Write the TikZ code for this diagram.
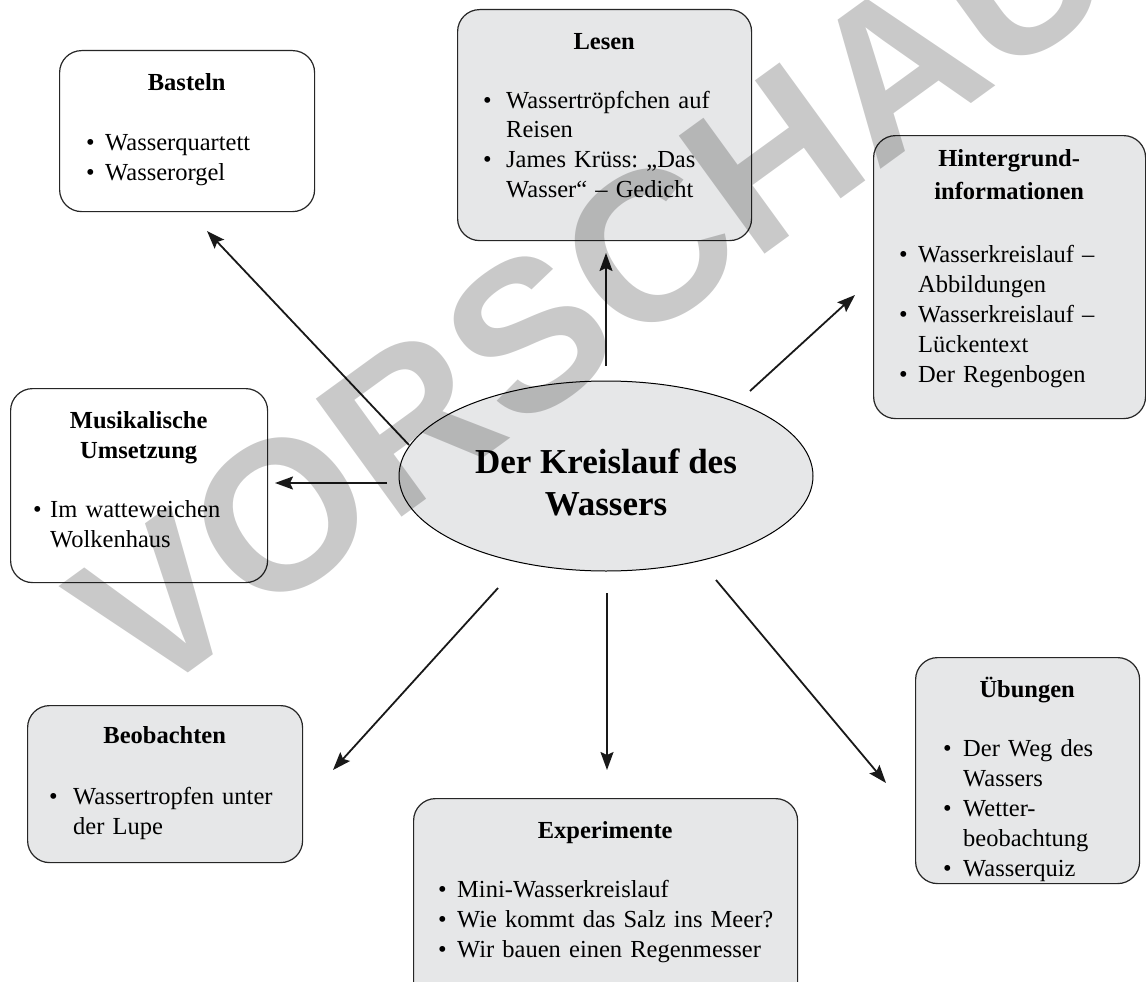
\documentclass[tikz,border=0pt]{standalone}
\usepackage{fontspec}
\setmainfont{Liberation Serif}
\newfontfamily\wmfont{Liberation Sans}
\usetikzlibrary{arrows.meta,shapes.geometric}
\definecolor{boxgray}{RGB}{230,231,232}
\frenchspacing
\newcommand\btitle[1]{{\centering\bfseries #1\par}}
\newcommand\bitem[2][19pt]{\par\hangindent=#1\hangafter=1\noindent\hbox to #1{\textbullet\hfil}\ignorespaces#2}
\tikzset{
  box/.style={draw=black!85, line width=1.2pt, rounded corners=22pt, inner sep=0pt, anchor=north west},
  whitebox/.style={box, fill=white},
  graybox/.style={box, fill=boxgray},
  txt/.style={inner sep=0pt, anchor=base west, font=\fontsize{24.5}{30}\selectfont},
  arr/.style={line width=1.8pt, draw=black!90, -{Stealth[length=18pt,width=13pt,inset=3pt]}},
}
\begin{document}
\begin{tikzpicture}[x=1pt,y=1pt]
\useasboundingbox (0,0) rectangle (1146,-982);
\clip (0,0) rectangle (1146,-982);
\fill[white] (0,0) rectangle (1146,-982);

% Basteln
\node[whitebox, minimum width=255, minimum height=161] (basteln) at (59,-50) {};
\node[txt, text width=201] (basteln-t) at (86,-91) {\raggedright\btitle{Basteln}\vspace{30pt}%
\bitem{Wasserquartett}\bitem{Wasserorgel}\par};

% Lesen
\node[graybox, minimum width=294, minimum height=231] (lesen) at (457,-9) {};
\node[txt, text width=242] (lesen-t) at (483,-49) {\raggedright\btitle{Lesen}\vspace{29pt}%
\bitem[23pt]{Wassertröpfchen auf\newline Reisen}\bitem[23pt]{James Krüss: „Das\newline Wasser“ – Gedicht}\par};

% Hintergrund
\node[graybox, minimum width=272, minimum height=283] (hinter) at (873,-135) {};
\node[txt, text width=220] (hinter-t) at (899,-166) {\raggedright{\centering\bfseries\fontsize{24.5}{33}\selectfont Hintergrund-\\informationen\par}\vspace{33pt}%
\bitem{Wasserkreislauf –\newline Abbildungen}\bitem{Wasserkreislauf –\newline Lückentext}\bitem{Der Regenbogen}\par};

% Musikalische Umsetzung
\node[whitebox, minimum width=257, minimum height=194] (musik) at (10,-388) {};
\node[txt, text width=211] (musik-t) at (33,-428) {\raggedright\btitle{Musikalische\\Umsetzung}\vspace{29pt}%
\bitem[17pt]{Im watteweichen\newline Wolkenhaus}\par};

% Beobachten
\node[graybox, minimum width=275, minimum height=157] (beob) at (27,-705) {};
\node[txt, text width=231] (beob-t) at (49,-743) {\raggedright\btitle{Beobachten}\vspace{31pt}%
\bitem[24pt]{\mbox{Wassertropfen unter}\newline der Lupe}\par};

% Experimente
\node[graybox, minimum width=384, minimum height=240] (exp) at (413,-798) {};
\node[txt, text width=334] (exp-t) at (438,-838) {\raggedright\btitle{Experimente}\vspace{29pt}%
\bitem{\mbox{Mini-Wasserkreislauf}}\bitem{\mbox{Wie kommt das Salz ins Meer?}}\bitem{\mbox{Wir bauen einen Regenmesser}}\par};

% Uebungen
\node[graybox, minimum width=224, minimum height=226] (ueb) at (915,-657) {};
\node[txt, text width=168] (ueb-t) at (943,-697) {\raggedright\btitle{Übungen}\vspace{29pt}%
\bitem[20pt]{Der Weg des\newline Wassers}\bitem[20pt]{Wetter-\newline beobachtung}\bitem[20pt]{Wasserquiz}\par};

% Centre
\node[ellipse, draw=black, line width=1pt, fill=boxgray, minimum width=414, minimum height=190,
      align=center, font=\fontsize{35}{42}\selectfont\bfseries] (center) at (606,-476)
      {\rule{0pt}{38pt}Der Kreislauf des\\Wassers};

% arrow end points
\coordinate (s1) at (409,-445); \coordinate (e1) at (207,-231);
\coordinate (s2) at (606,-366); \coordinate (e2) at (606,-253);
\coordinate (s3) at (750,-391); \coordinate (e3) at (855,-295);
\coordinate (s4) at (387,-483); \coordinate (e4) at (275,-483);
\coordinate (s5) at (498,-588); \coordinate (e5) at (333,-770);
\coordinate (s6) at (607,-593); \coordinate (e6) at (607,-770);
\coordinate (s7) at (716,-580); \coordinate (e7) at (886,-783);
\draw[arr] (s1) -- (e1);
\draw[arr] (s2) -- (e2);
\draw[arr] (s3) -- (e3);
\draw[arr] (s4) -- (e4);
\draw[arr] (s5) -- (e5);
\draw[arr] (s6) -- (e6);
\draw[arr] (s7) -- (e7);

% watermark
\node[anchor=base west, inner sep=0pt, rotate=36, text=black, text opacity=0.21,
      font=\wmfont\bfseries\fontsize{212}{212}\selectfont] (wm) at (143,-706) {VORSCHAU};
\end{tikzpicture}
\end{document}
